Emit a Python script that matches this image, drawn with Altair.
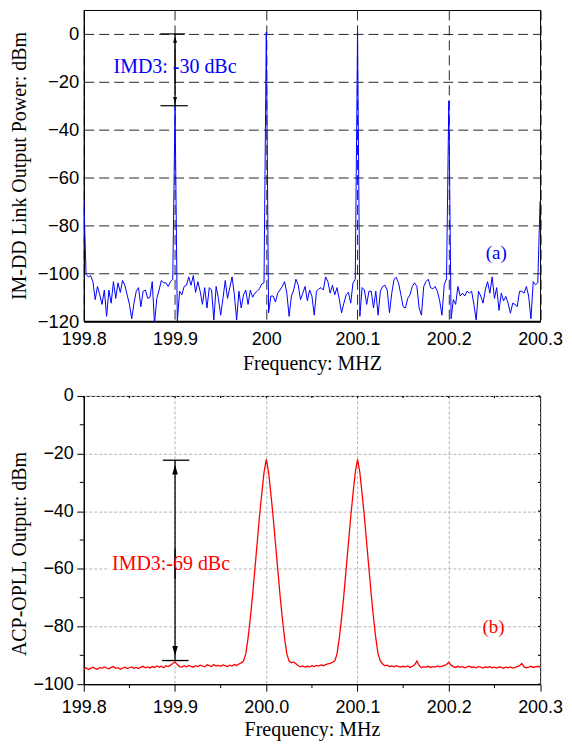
import altair as alt
import pandas as pd

# ---------------- panel (a): IM-DD link spectrum ----------------
A_F0 = 199.8
A_STEP = 0.0025
a_power = [
    -69, -100.5, -101.5, -101, -103.5, -111, -105.5, -109, -113, -107,
    -118, -107, -112.5, -103.5, -110.5, -104, -108, -103, -105, -109,
    -113, -119, -112.5, -107.5, -106, -114, -107.5, -107, -110.5, -110,
    -103.5, -121, -110.5, -107, -103, -104, -104, -105.5, -103.5, -102.5,
    -30, -120, -107.5, -109, -105.5, -105, -101.5, -105, -101, -108,
    -103.5, -107.5, -113, -106, -114.5, -106, -107, -119.5, -105.5, -110.5,
    -117.5, -110.5, -103, -110.5, -106, -101.5, -109, -119.5, -107.5, -114.5,
    -109, -107, -113, -107, -110, -108.3, -107.5, -106.5, -104.5, -104,
    0.8, -116.5, -109.5, -109.5, -112, -108.3, -107, -105.5, -103.5, -108.3,
    -118, -109.5, -107, -102.5, -105, -111, -108.3, -105.5, -111.5, -107,
    -109.5, -117.5, -107.5, -106.5, -106, -107, -101.5, -103.5, -108.3, -105,
    -109, -106, -111, -116.5, -112.5, -109, -108, -112.5, -104, -102.5,
    0.8, -118, -106, -107, -113, -107.5, -107.5, -114.5, -107.5, -117.5,
    -107.5, -105.5, -105, -107, -116.5, -108.3, -102.5, -101.7, -104.2, -109,
    -114, -114.5, -110.5, -109, -105.5, -104, -105.5, -114.5, -117.5, -105.5,
    -103.5, -102.5, -106, -106.5, -105.5, -107.5, -111.5, -117.5, -104.8, -102.3,
    -28, -119, -111, -113, -105.5, -109.5, -108.3, -109.5, -107.5, -108.3,
    -107.5, -113, -119.5, -107.5, -109.5, -112.5, -107, -103.5, -108.3, -101.5,
    -110.5, -106, -115.5, -108.3, -111.5, -109.7, -112.5, -116.7, -112.5, -113,
    -113.9, -107.5, -107.5, -108.3, -105.5, -109.5, -119, -103.5, -104.8, -104,
    -70,
]

# ---------------- panel (b): ACP-OPLL spectrum ----------------
B_F0 = 199.8
B_STEP = 0.0025
b_power = [
    -94.8, -94.3, -94.9, -94.5, -94.1, -94.6, -94.8, -94.2, -94.5, -94.0,
    -94.4, -94.7, -94.2, -93.9, -94.5, -94.3, -94.8, -94.4, -94.1, -94.6,
    -94.3, -94.0, -94.5, -94.2, -94.6, -94.1, -93.8, -94.3, -94.0, -94.4,
    -93.9, -94.2, -93.7, -94.1, -93.8, -94.3, -93.6, -93.9, -93.4, -92.8,
    -92.3, -93.2, -93.9, -94.1, -93.6, -94.0, -93.5, -93.8, -94.1, -93.6,
    -93.9, -93.4, -93.7, -94.0, -93.3, -93.6, -93.9, -93.2, -93.7, -93.5,
    -93.8, -93.3, -93.6, -93.9, -93.4, -93.7, -93.2, -93.5, -93.0, -92.6,
    -92.0, -89.5, -84, -77, -69, -60, -51, -42, -34, -26.5,
    -22, -26.5, -34, -42, -51, -60, -69, -77, -84, -89.5,
    -92.0, -92.6, -92.3, -92.9, -93.6, -94.0, -93.7, -94.1, -93.8, -94.0,
    -93.6, -93.9, -93.5, -93.7, -93.3, -93.6, -93.2, -93.0, -92.8, -92.4,
    -92.0, -89.5, -84, -77, -69, -60, -51, -42, -34, -26.5,
    -22, -26.5, -34, -42, -51, -60, -69, -77, -84, -89.5,
    -92.0, -93.0, -93.6, -93.4, -93.9, -93.7, -94.0, -93.6, -93.9, -94.1,
    -93.8, -94.0, -93.7, -94.2, -93.8, -93.3, -92.0, -93.5, -94.3, -93.9,
    -94.1, -93.8, -94.2, -93.9, -94.1, -93.7, -94.0, -93.8, -93.5, -93.2,
    -92.4, -93.4, -93.9, -94.2, -93.8, -94.1, -93.9, -94.3, -94.0, -93.8,
    -94.2, -94.0, -94.3, -93.9, -94.1, -94.4, -94.0, -94.2, -93.9, -94.3,
    -94.1, -94.4, -94.0, -94.2, -94.5, -94.1, -94.3, -94.0, -94.4, -94.2,
    -93.9, -93.6, -92.8, -94.0, -94.3, -94.1, -93.8, -94.2, -94.0, -93.8,
    -94.1,
]

# ---------------- axes ----------------
x_major = [199.8, 199.9, 200.0, 200.1, 200.2, 200.3]
x_minor = [199.85, 199.95, 200.05, 200.15, 200.25]
x_all = [199.8, 199.85, 199.9, 199.95, 200.0, 200.05, 200.1, 200.15, 200.2, 200.25, 200.3]
a_y_major = [-120, -100, -80, -60, -40, -20, 0]
b_y_major = [-100, -80, -60, -40, -20, 0]
b_y_minor = [-90, -70, -50, -30, -10]
b_y_all = [-100, -90, -80, -70, -60, -50, -40, -30, -20, -10, 0]

# ---------------- annotations ----------------
a_arrow_x = 199.9
a_arrow_seg_y = [0, -6.5]
a_arrow_seg_y2 = [-21, -30]
a_cap_x = [199.884, 199.884]
a_cap_x2 = [199.911, 199.914]
a_cap_y = [0, -30]
a_head_y = [-2.2, -27.8]
a_label = "IMD3: -30 dBc"
a_label_pos = (199.9, -14)
a_label_box = (199.832, 199.968, -7.0, -19.5)
a_tag = "(a)"
a_tag_pos = (200.252, -91.5)

b_arrow_x = 199.9
b_arrow_seg_y = [-22.3, -53]
b_arrow_seg_y2 = [-63.5, -91.8]
b_cap_x = [199.8866, 199.8858]
b_cap_x2 = [199.9156, 199.9148]
b_cap_y = [-22.3, -91.8]
b_head_y = [-25.5, -88.5]
b_label = "IMD3:-69 dBc"
b_label_pos = (199.8956, -58.4)
b_label_box = (199.828, 199.963, -53.0, -63.5)
b_tag = "(b)"
b_tag_pos = (200.249, -80.3)

UP = "M0,-1L0.55,1L-0.55,1Z"
DOWN = "M0,1L0.55,-1L-0.55,-1Z"

SANS = "Liberation Sans"
SERIF = "Liberation Serif"

A_W, A_H = 457.5, 312
B_W, B_H = 457.5, 289
TITLE_X = -58.3

df_a = pd.DataFrame({"f": [A_F0 + A_STEP * i for i in range(len(a_power))], "p": a_power})
df_b = pd.DataFrame({"f": [B_F0 + B_STEP * i for i in range(len(b_power))], "p": b_power})


def annotation_layers(xs, ys, color, arrow_x, seg_y, seg_y2, cap_x, cap_x2, cap_y, head_y,
                      head_size, label, label_pos, label_box, tag, tag_pos, lw):
    box = alt.Chart(pd.DataFrame({"x": [label_box[0]], "x2": [label_box[1]],
                                  "y": [label_box[2]], "y2": [label_box[3]]})).mark_rect(
        color="white", opacity=1).encode(
        x=alt.X("x:Q", scale=xs), x2="x2:Q", y=alt.Y("y:Q", scale=ys), y2="y2:Q")
    seg = alt.Chart(pd.DataFrame({"x": [arrow_x] * 2, "y": seg_y, "y2": seg_y2})).mark_rule(
        color="black", strokeWidth=lw).encode(
        x=alt.X("x:Q", scale=xs), y=alt.Y("y:Q", scale=ys), y2="y2:Q")
    cap = alt.Chart(pd.DataFrame({"x": cap_x, "x2": cap_x2, "y": cap_y})).mark_rule(
        color="black", strokeWidth=lw).encode(
        x=alt.X("x:Q", scale=xs), x2="x2:Q", y=alt.Y("y:Q", scale=ys))
    head = alt.Chart(pd.DataFrame({"x": [arrow_x] * 2, "y": head_y, "s": [UP, DOWN]})).mark_point(
        filled=True, color="black", opacity=1, size=head_size, strokeWidth=0).encode(
        x=alt.X("x:Q", scale=xs), y=alt.Y("y:Q", scale=ys), shape=alt.Shape("s:N", scale=None))
    txt = alt.Chart(pd.DataFrame({"x": [label_pos[0], tag_pos[0]], "y": [label_pos[1], tag_pos[1]],
                                  "t": [label, tag], "fs": [20, 19]})).mark_text(
        font=SERIF, color=color, align="center", baseline="middle").encode(
        x=alt.X("x:Q", scale=xs), y=alt.Y("y:Q", scale=ys), text="t:N",
        size=alt.Size("fs:Q", scale=None))
    return [box, seg, cap, head, txt]


# ---------- panel (a) ----------
xa_scale = alt.Scale(domain=[199.8, 200.3], nice=False, zero=False)
ya_scale = alt.Scale(domain=[-120, 10], nice=False, zero=False)

xa = alt.X("f:Q", scale=xa_scale, axis=alt.Axis(
    values=x_major, format="~g", title="Frequency: MHZ", grid=True, gridColor="black", gridDash=[10, 5],
    gridWidth=1, gridOpacity=0.85, ticks=False, labelPadding=9, domainWidth=2, domainColor="black",
    labelFont=SANS, labelFontSize=18, labelColor="black", labelFlush=False, labelOverlap=False,
    titleFont=SERIF, titleFontSize=20, titleFontWeight="normal", titleColor="black",
    titleBaseline="alphabetic", titleY=48.5))
ya = alt.Y("p:Q", scale=ya_scale, axis=alt.Axis(
    values=a_y_major, title="IM-DD Link Output Power: dBm", grid=True, gridColor="black",
    gridDash=[10, 5], gridWidth=1, gridOpacity=0.85, ticks=False, labelPadding=5, domainColor="black",
    labelFont=SANS, labelFontSize=18.5, labelColor="black", labelOverlap=False,
    titleFont=SERIF, titleFontSize=20, titleFontWeight="normal", titleColor="black",
    titleBaseline="alphabetic", titleX=TITLE_X, titleY=A_H / 2))

line_a = alt.Chart(df_a).mark_line(color="#0000ff", strokeWidth=1, clip=True).encode(x=xa, y=ya)

panel_a = alt.layer(
    line_a,
    *annotation_layers(xa_scale, ya_scale, "#0000ff", a_arrow_x, a_arrow_seg_y, a_arrow_seg_y2,
                       a_cap_x, a_cap_x2, a_cap_y, a_head_y, 49, a_label, a_label_pos, a_label_box,
                       a_tag, a_tag_pos, 1.2)
).properties(width=A_W, height=A_H)

# ---------- panel (b) ----------
xb_scale = alt.Scale(domain=[199.8, 200.3], nice=False, zero=False)
yb_scale = alt.Scale(domain=[-100, 0], nice=False, zero=False)

xb = alt.X("f:Q", scale=xb_scale, axis=alt.Axis(
    values=x_major, format=".1f", title="Frequency: MHz", grid=True, gridColor="#b4b4b4", gridDash=[3, 2],
    gridWidth=1, ticks=True, tickSize=7, tickColor="black", tickWidth=1, labelPadding=7,
    domainColor="black", domainWidth=1.3,
    labelFont=SANS, labelFontSize=18, labelColor="black", labelFlush=False, labelOverlap=False,
    titleFont=SERIF, titleFontSize=20, titleFontWeight="normal", titleColor="black",
    titleBaseline="alphabetic", titleY=51.5))
yb = alt.Y("p:Q", scale=yb_scale, axis=alt.Axis(
    values=b_y_major, title="ACP-OPLL Output: dBm", grid=True, gridColor="#b4b4b4", gridDash=[3, 2],
    gridWidth=1, ticks=True, tickSize=7, tickColor="black", tickWidth=1, labelPadding=3.5,
    domainColor="black", domainWidth=1.3,
    labelFont=SANS, labelFontSize=18, labelColor="black", labelOverlap=False,
    titleFont=SERIF, titleFontSize=20, titleFontWeight="normal", titleColor="black",
    titleBaseline="alphabetic", titleX=TITLE_X, titleY=158))

line_b = alt.Chart(df_b).mark_line(color="#ff0000", strokeWidth=1.3, clip=True).encode(x=xb, y=yb)

minor_x_b = alt.Chart(pd.DataFrame({"x": x_minor})).mark_rule(color="black", strokeWidth=1).encode(
    x=alt.X("x:Q", scale=xb_scale), y=alt.value(B_H), y2=alt.value(B_H + 4))
minor_y_b = alt.Chart(pd.DataFrame({"y": b_y_minor})).mark_rule(color="black", strokeWidth=1).encode(
    y=alt.Y("y:Q", scale=yb_scale), x=alt.value(-4), x2=alt.value(0))
top_ticks_b = alt.Chart(pd.DataFrame({"x": x_all})).mark_rule(color="black", strokeWidth=1.2).encode(
    x=alt.X("x:Q", scale=xb_scale), y=alt.value(0), y2=alt.value(2))
right_ticks_b = alt.Chart(pd.DataFrame({"y": b_y_all})).mark_rule(color="black", strokeWidth=1.2).encode(
    y=alt.Y("y:Q", scale=yb_scale), x=alt.value(B_W - 2), x2=alt.value(B_W))

panel_b = alt.layer(
    line_b, minor_x_b, minor_y_b, top_ticks_b, right_ticks_b,
    *annotation_layers(xb_scale, yb_scale, "#ff0000", b_arrow_x, b_arrow_seg_y, b_arrow_seg_y2,
                       b_cap_x, b_cap_x2, b_cap_y, b_head_y, 100, b_label, b_label_pos, b_label_box,
                       b_tag, b_tag_pos, 1.3)
).properties(width=B_W, height=B_H)

chart = alt.vconcat(panel_a, panel_b, spacing=12).configure(
    padding={"left": 1, "top": 0, "right": 0, "bottom": 0}
).configure_view(stroke="black", strokeWidth=1)

chart.save("out.html", embed_options={"renderer": "svg", "actions": False})
